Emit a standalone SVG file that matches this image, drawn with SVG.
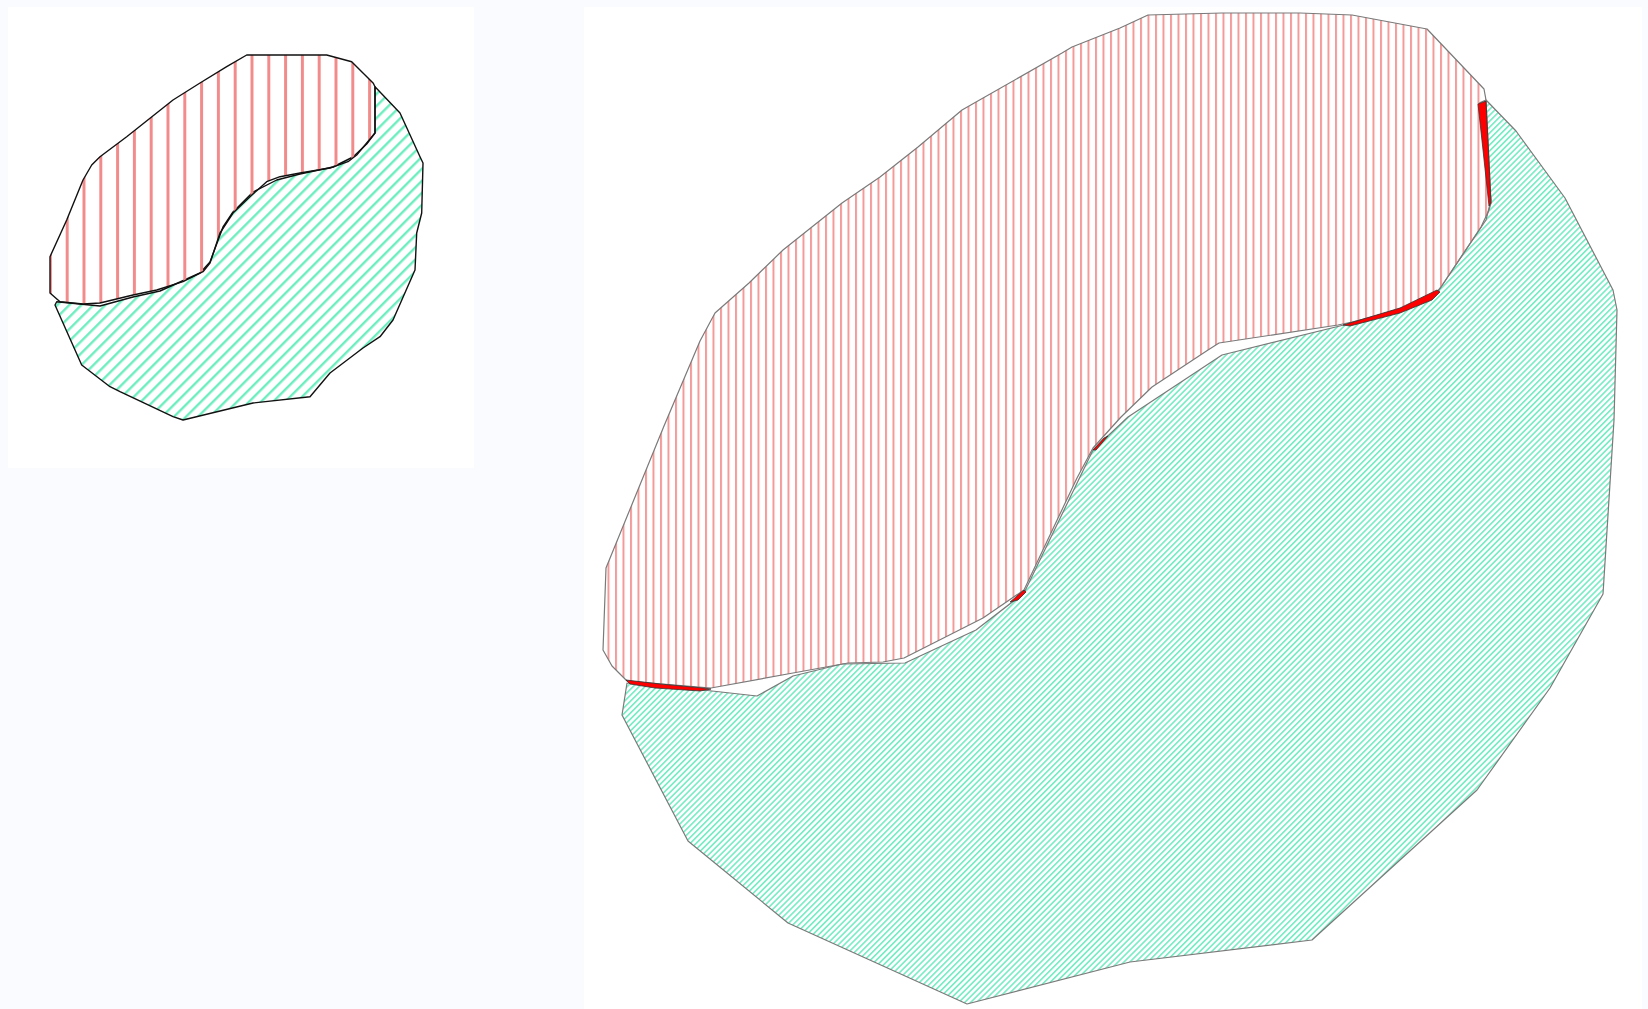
<svg xmlns="http://www.w3.org/2000/svg" width="1648" height="1009" viewBox="0 0 1648 1009">
<style>
.big{stroke:#7a7a7a;stroke-width:1.2;stroke-linejoin:round}
.small{stroke:#111;stroke-width:1.4;stroke-linejoin:round}
.sliver{fill:#ff0000;stroke:#333;stroke-width:0.8;stroke-linejoin:round}
</style>
<defs>
<pattern id="redL" width="7.5" height="10" patternUnits="userSpaceOnUse"><rect x="0" y="0" width="2" height="10" fill="#f39a9a"/></pattern>
<pattern id="greenL" width="4.2" height="10" patternUnits="userSpaceOnUse" patternTransform="rotate(45)"><rect x="0" y="0" width="1.6" height="10" fill="#74ecc4"/></pattern>
<pattern id="redS" width="16.8" height="10" patternUnits="userSpaceOnUse" patternTransform="translate(-1.5 0)"><rect x="0" y="0" width="3" height="10" fill="#f28b8b"/></pattern>
<pattern id="greenS" width="8.5" height="10" patternUnits="userSpaceOnUse" patternTransform="rotate(45)"><rect x="0" y="0" width="2.4" height="10" fill="#6eeec0"/></pattern>
</defs>
<rect x="0" y="0" width="1648" height="1009" fill="#f9fbfe"/>
<rect x="8" y="7" width="466" height="461" fill="#ffffff"/>
<rect x="584" y="7" width="1058" height="1002" fill="#ffffff"/>

<g id="small-figure">
<polygon id="small-green" class="small" fill="url(#greenS)" points="375,86.7 400,113 420,156.7 423,163 421.7,213 416.7,233 415,270 393,320 380,336.7 363,348 330,373 310,396.7 253,403 183,420 173,416.7 120,391.7 110,386.7 81.7,365 55,305 56.7,301.7 100,306 133,297 160,291 200,273 210,262 223,227 233,212 253,192 276.7,180 300,174 333,167 353,157 366.7,144 375,133"/>
<polygon id="small-red" class="small" fill="url(#redS)" points="246.7,55 326.7,55 351.7,61.7 373.3,83.3 375,86.7 375,133 366.7,143 356.7,155 348,161.7 330,168 300,173 280,176.7 266.7,181.7 250,196.7 233,213 220,233 210,263 203,271.7 183,281.7 156.7,290 133,295 100,303 83,304 60,301.7 50,293 50,256.7 66.7,220 83,180 91.7,165 100,156.7 126.7,136.7 173,100 200,83 226.7,66.7"/>
</g>

<g id="large-figure">
<polygon id="large-green" class="big" fill="url(#greenL)" points="1479,103 1486,100 1516,131 1565,198 1613,290 1617,310 1614,420 1603,594 1550,688 1477,790 1312,940 1130,962 967,1004 788,923 688,841 622,715 627,683 703,690 757,696 793,676 842,664 905,663 976,630 1024,593 1093,450 1128,417 1222,355 1352,323 1428,300 1439,290 1486,220 1491,200 1484,150"/>
<polygon id="large-red" class="big" fill="url(#redL)" points="1148,15 1222,13 1300,13 1352,15 1427,29 1484,89 1486,100 1491,203 1489,210 1481,227 1441,287 1432,298 1400,310 1352,322 1338,325 1219,343 1208,350 1152,387 1121,417 1093,448 1077,478 1024,590 983,618 904,658 883,662 848,663 793,673 711,688 627,681 612,666 603,650 606,568 664,426 700,341 715,313 749,283 783,250 842,203 880,177 918,147 962,110 1062,53 1072,47 1120,28"/>
<g id="overlaps">
<polygon class="sliver" points="1478,104 1486,101 1491,203 1489,206 1483,150"/>
<polygon class="sliver" points="1343,325 1400,308 1437,290 1440,292 1432,300 1400,313 1350,326"/>
<polygon class="sliver" points="1093,450 1104,438 1108,436 1096,450"/>
<polygon class="sliver" points="1010,602 1024,590 1026,592 1018,600"/>
<polygon class="sliver" points="626,680 660,684 703,688 711,689 700,691 655,688 630,684"/>
</g>
</g>
</svg>
